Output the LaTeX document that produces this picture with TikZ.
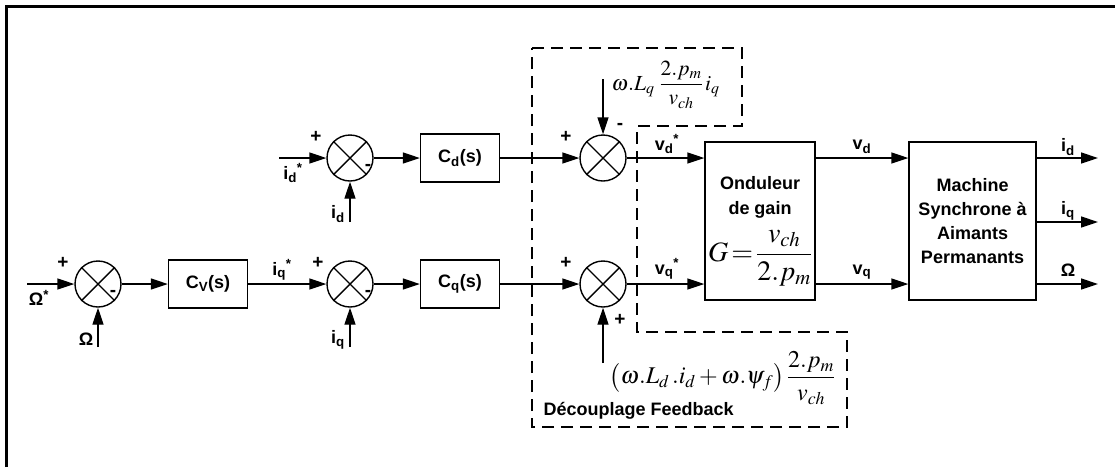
\documentclass[tikz,border=0pt]{standalone}
\usepackage{amsmath}
\usepackage{mathptmx}
\usepackage[no-math]{fontspec}
\setmainfont{Liberation Sans}
\usetikzlibrary{arrows.meta}
\begin{document}
\begin{tikzpicture}[x=1pt,y=-1pt,
  line width=1.4pt,
  sumnode/.style={circle,draw,minimum size=46pt,inner sep=0pt},
  blk/.style={draw,minimum width=79pt,minimum height=48pt,inner sep=0pt,font=\fontsize{18}{21}\selectfont\bfseries},
  bigblk/.style={draw,minimum height=158pt,inner sep=0pt,align=center,font=\fontsize{18}{24}\selectfont\bfseries},
  lab/.style={inner sep=0pt,font=\fontsize{18}{21}\selectfont\bfseries},
  sgn/.style={inner sep=0pt,font=\fontsize{19}{21}\selectfont\bfseries},
  arr/.style={-{Triangle[length=17pt,width=11pt]}},
  dsh/.style={line width=1.2pt,dash pattern=on 12pt off 7pt}]
\useasboundingbox (0,0) rectangle (1115,467);
\draw[line width=3pt] (6,467) -- (6,6) -- (1115,6);

% summing junctions
\node[sumnode] (s1) at (98,284) {};
\node[sumnode] (s2) at (350,284) {};
\node[sumnode] (s3) at (350,158) {};
\node[sumnode] (s4) at (603,158) {};
\node[sumnode] (s5) at (603,284) {};
\foreach \s in {s1,s2,s3,s4,s5}{
  \draw (\s.north west) -- (\s.south east);
  \draw (\s.north east) -- (\s.south west);
}

% blocks
\node[blk] (cv) at (208,284) {C\textsubscript{V}(s)};
\node[blk] (cd) at (460,158) {C\textsubscript{d}(s)};
\node[blk] (cq) at (460,284) {C\textsubscript{q}(s)};
\node[bigblk,minimum width=110pt] (ond) at (760,221) {};
\node[lab,align=center,font=\fontsize{18}{25}\selectfont\bfseries] (ondt) at (760,197) {Onduleur\\de gain};
\node[inner sep=0pt,font=\fontsize{28}{32}\selectfont] (gf) at (760,258) {$G\!=\!\dfrac{v_{ch}}{2.p_m}$};
\node[bigblk,minimum width=127pt] (mach) at (972.5,221) {Machine\\Synchrone à\\Aimants\\Permanants};

% coordinates for free ends
\coordinate (om) at (27,284);
\coordinate (omfb) at (98,347);
\coordinate (iqfb) at (350,347);
\coordinate (idin) at (279,158);
\coordinate (idfb) at (350,222);
\coordinate (topin) at (603,79);
\coordinate (botin) at (603,363);
\coordinate (o1) at (1098,158);
\coordinate (o2) at (1098,222);
\coordinate (o3) at (1098,284);

% connectors
\draw[arr] (om) -- (s1);
\draw[arr] (omfb) -- (s1);
\draw[arr] (s1) -- (cv);
\draw[arr] (cv) -- (s2);
\draw[arr] (iqfb) -- (s2);
\draw[arr] (s2) -- (cq);
\draw[arr] (cq) -- (s5);
\draw[arr] (idin) -- (s3);
\draw[arr] (idfb) -- (s3);
\draw[arr] (s3) -- (cd);
\draw[arr] (cd) -- (s4);
\draw[arr] (topin) -- (s4);
\draw[arr] (botin) -- (s5);
\draw[arr] (s4) -- (s4 -| ond.west);
\draw[arr] (s5) -- (s5 -| ond.west);
\draw[arr] (ond.east |- s4) -- (mach.west |- s4);
\draw[arr] (ond.east |- s5) -- (mach.west |- s5);
\draw[arr] (mach.east |- o1) -- (o1);
\draw[arr] (mach.east |- o2) -- (o2);
\draw[arr] (mach.east |- o3) -- (o3);

% dashed decoupling region
\draw[dsh] (532,48) -- (742,48) -- (742,126) -- (637,126) -- (637,332) -- (847,332) -- (847,427) -- (532,427) -- cycle;

% signs
\node[sgn] (p1) at (63,263) {+};
\node[sgn] (m1) at (113,293) {-};
\node[sgn] (p2) at (318,263) {+};
\node[sgn] (m2) at (368,293) {-};
\node[sgn] (p3) at (316,137) {+};
\node[sgn] (m3) at (368,167) {-};
\node[sgn] (p4) at (566,137) {+};
\node[sgn] (m4) at (620,126) {-};
\node[sgn] (p5) at (566,263) {+};
\node[sgn] (p6) at (620,320) {+};

% signal labels
\node[lab] (lom) at (39,298) {Ω\textsuperscript{*}};
\node[lab] (lomfb) at (86,339) {Ω};
\node[lab] (liqs) at (282,270) {i\textsubscript{q}\textsuperscript{*}};
\node[lab] (liq) at (338,340) {i\textsubscript{q}};
\node[lab] (lids) at (293,173) {i\textsubscript{d}\textsuperscript{*}};
\node[lab] (lid) at (338,214) {i\textsubscript{d}};
\node[lab] (lvds) at (667,144) {v\textsubscript{d}\textsuperscript{*}};
\node[lab] (lvqs) at (667,269) {v\textsubscript{q}\textsuperscript{*}};
\node[lab] (lvd) at (862,147) {v\textsubscript{d}};
\node[lab] (lvq) at (862,272) {v\textsubscript{q}};
\node[lab] (lod) at (1068,147) {i\textsubscript{d}};
\node[lab] (loq) at (1068,211) {i\textsubscript{q}};
\node[lab] (loo) at (1068,270) {Ω};

% formulas
\node[inner sep=0pt,font=\fontsize{21.5}{26}\selectfont,anchor=west] (ftop) at (611,85) {$\omega.L_q\;\dfrac{2.p_m}{v_{ch}}\,i_q$};
\node[inner sep=0pt,font=\fontsize{24}{28}\selectfont,anchor=west] (fbot) at (609,378) {$\left(\omega.L_d\,.i_d+\omega.\psi_f\right)\dfrac{2.p_m}{v_{ch}}$};
\node[lab,anchor=west] (dec) at (543,411) {Découplage Feedback};
\end{tikzpicture}
\end{document}
